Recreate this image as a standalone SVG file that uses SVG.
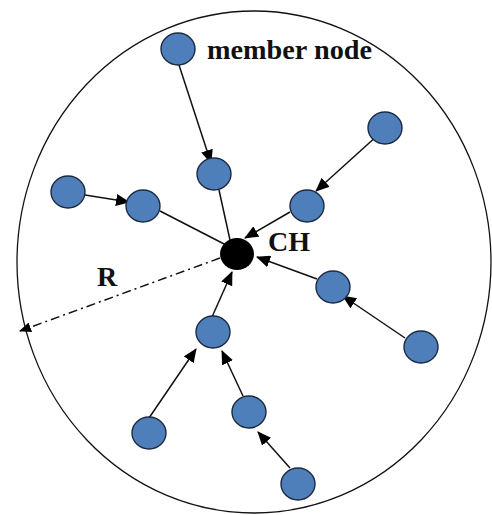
<svg xmlns="http://www.w3.org/2000/svg" width="492" height="515" viewBox="0 0 492 515">
<style>
.node{fill:#4f7fba;stroke:#1b2a40;stroke-width:1.4}
.ch{fill:#000}
.edge{stroke:#111;stroke-width:1.5;fill:none}
.lbl{font-family:"Liberation Serif",serif;font-weight:bold;fill:#111}
</style>
<defs>
<marker id="ah" markerUnits="userSpaceOnUse" markerWidth="14" markerHeight="12" refX="13" refY="6" orient="auto">
<path d="M0,0 L14,6 L0,12 Z" fill="#000"/>
</marker>
<marker id="ahs" markerUnits="userSpaceOnUse" markerWidth="12" markerHeight="10" refX="11" refY="5" orient="auto">
<path d="M0,0 L12,5 L0,10 Z" fill="#000"/>
</marker>
</defs>
<ellipse cx="254" cy="262" rx="237" ry="251" fill="none" stroke="#111" stroke-width="1.3"/>
<g id="connectors">
<line class="edge" x1="179" y1="65" x2="211" y2="163" marker-end="url(#ah)"/>
<line class="edge" x1="378" y1="135" x2="316" y2="191" marker-end="url(#ah)"/>
<line class="edge" x1="85" y1="195" x2="129" y2="202" marker-end="url(#ah)"/>
<line class="edge" x1="160" y1="211" x2="228" y2="246"/>
<line class="edge" x1="219" y1="190" x2="230" y2="240"/>
<line class="edge" x1="290" y1="212" x2="245" y2="238" marker-end="url(#ah)"/>
<line class="edge" x1="317" y1="279" x2="257" y2="257" marker-end="url(#ah)"/>
<line class="edge" x1="405" y1="338" x2="343" y2="296" marker-end="url(#ah)"/>
<line class="edge" x1="212" y1="317" x2="232" y2="272" marker-end="url(#ah)"/>
<line class="edge" x1="149" y1="418" x2="196" y2="349" marker-end="url(#ah)"/>
<line class="edge" x1="243" y1="396" x2="222" y2="351" marker-end="url(#ah)"/>
<line class="edge" x1="290" y1="468" x2="258" y2="432" marker-end="url(#ah)"/>
<line class="edge" x1="220" y1="258" x2="20" y2="331" stroke-dasharray="9,4,2,4" marker-end="url(#ahs)"/>
</g>
<g id="n1"><ellipse class="node" cx="178" cy="49" rx="17" ry="16"/></g>
<g id="n2"><ellipse class="node" cx="214" cy="174" rx="17" ry="16"/></g>
<g id="n3"><ellipse class="node" cx="385" cy="128" rx="17" ry="16"/></g>
<g id="n4"><ellipse class="node" cx="68" cy="192" rx="17" ry="16"/></g>
<g id="n5"><ellipse class="node" cx="143" cy="206" rx="17" ry="16"/></g>
<g id="n6"><ellipse class="node" cx="307" cy="206" rx="17" ry="16"/></g>
<g id="ch"><ellipse class="ch" cx="237" cy="254" rx="17" ry="16"/></g>
<g id="n7"><ellipse class="node" cx="333" cy="287" rx="17" ry="16"/></g>
<g id="n8"><ellipse class="node" cx="421" cy="347" rx="17" ry="16"/></g>
<g id="n9"><ellipse class="node" cx="213" cy="332" rx="17" ry="16"/></g>
<g id="n10"><ellipse class="node" cx="149" cy="433" rx="17" ry="16"/></g>
<g id="n11"><ellipse class="node" cx="249" cy="412" rx="17" ry="16"/></g>
<g id="n12"><ellipse class="node" cx="298" cy="484" rx="17" ry="16"/></g>
<text class="lbl" x="207" y="59" font-size="27" textLength="165" lengthAdjust="spacingAndGlyphs">member node</text>
<text class="lbl" x="268" y="251" font-size="28">CH</text>
<text class="lbl" x="97" y="286" font-size="28">R</text>
</svg>
